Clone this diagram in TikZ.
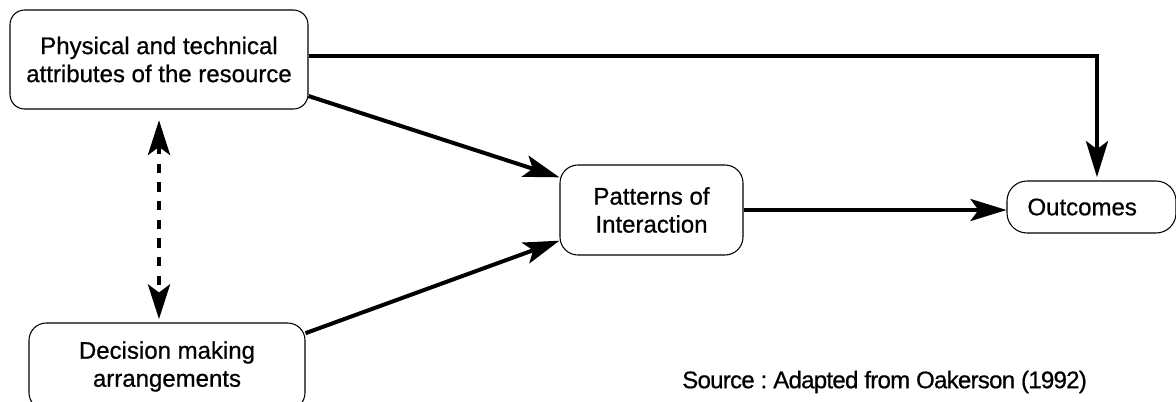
\documentclass[tikz,border=0pt]{standalone}
\usepackage{fontspec}
\setmainfont{Liberation Sans}[FakeBold=0.7]
\newfontfamily\tightfont{Liberation Sans}[FakeBold=0.7, LetterSpace=-3]
\usetikzlibrary{arrows.meta}
\frenchspacing
\begin{document}
\begin{tikzpicture}[x=0.75pt,y=-0.75pt,
  box/.style={draw=black, line width=0.8pt, align=center, inner sep=0pt,
    font=\fontsize{18}{21}\selectfont},
  flow/.style={line width=3pt, -{Stealth[length=27pt,width=16.5pt,inset=6pt]}},
  link/.style={line width=3.5pt, dash pattern=on 7pt off 7pt,
    {Stealth[length=26pt,width=16.5pt,inset=6pt]}-{Stealth[length=26pt,width=16.5pt,inset=6pt]}},
  note/.style={font=\fontsize{18}{21}\selectfont, inner sep=0pt}]
  \useasboundingbox (0,0) rectangle (1176,401);

  % boxes
  \node[box, rounded corners=11pt, minimum width=223.5pt, minimum height=74.25pt]
    (phys) at (159,59.5) {Physical and technical\\attributes of the resource};
  \node[box, rounded corners=13pt, minimum width=207pt, minimum height=65.25pt]
    (dec) at (167,366.5) {Decision making\\arrangements};
  \node[box, rounded corners=13.5pt, minimum width=137.25pt, minimum height=67.5pt]
    (pat) at (651.5,210) {Patterns of\\Interaction};
  \node[box, rounded corners=15pt, minimum width=126.75pt, minimum height=39pt]
    (out) at (1091.5,207) {};
  \node[note] (outtext) at ([xshift=-7pt]out.center) {Outcomes};

  % connectors
  \draw[flow, shorten >=2.5pt] ([yshift=2.6pt]phys.east) -| ([xshift=4.1pt]out.north);
  \draw[flow] ([yshift=-27.4pt]phys.east) -- ([yshift=24.5pt]pat.west);
  \draw[flow] ([yshift=25pt]dec.east) -- ([yshift=-23pt]pat.west);
  \draw[flow] (pat.east) -- (pat.east -| out.west);
  \draw[link, shorten <=8pt, shorten >=2.5pt] (phys.south) -- (phys.south |- dec.north);

  % source note
  \node[note, anchor=west, font=\tightfont\fontsize{18}{21}\selectfont] (src) at (682,382)
    {Source : Adapted from Oakerson (1992)};
\end{tikzpicture}
\end{document}
